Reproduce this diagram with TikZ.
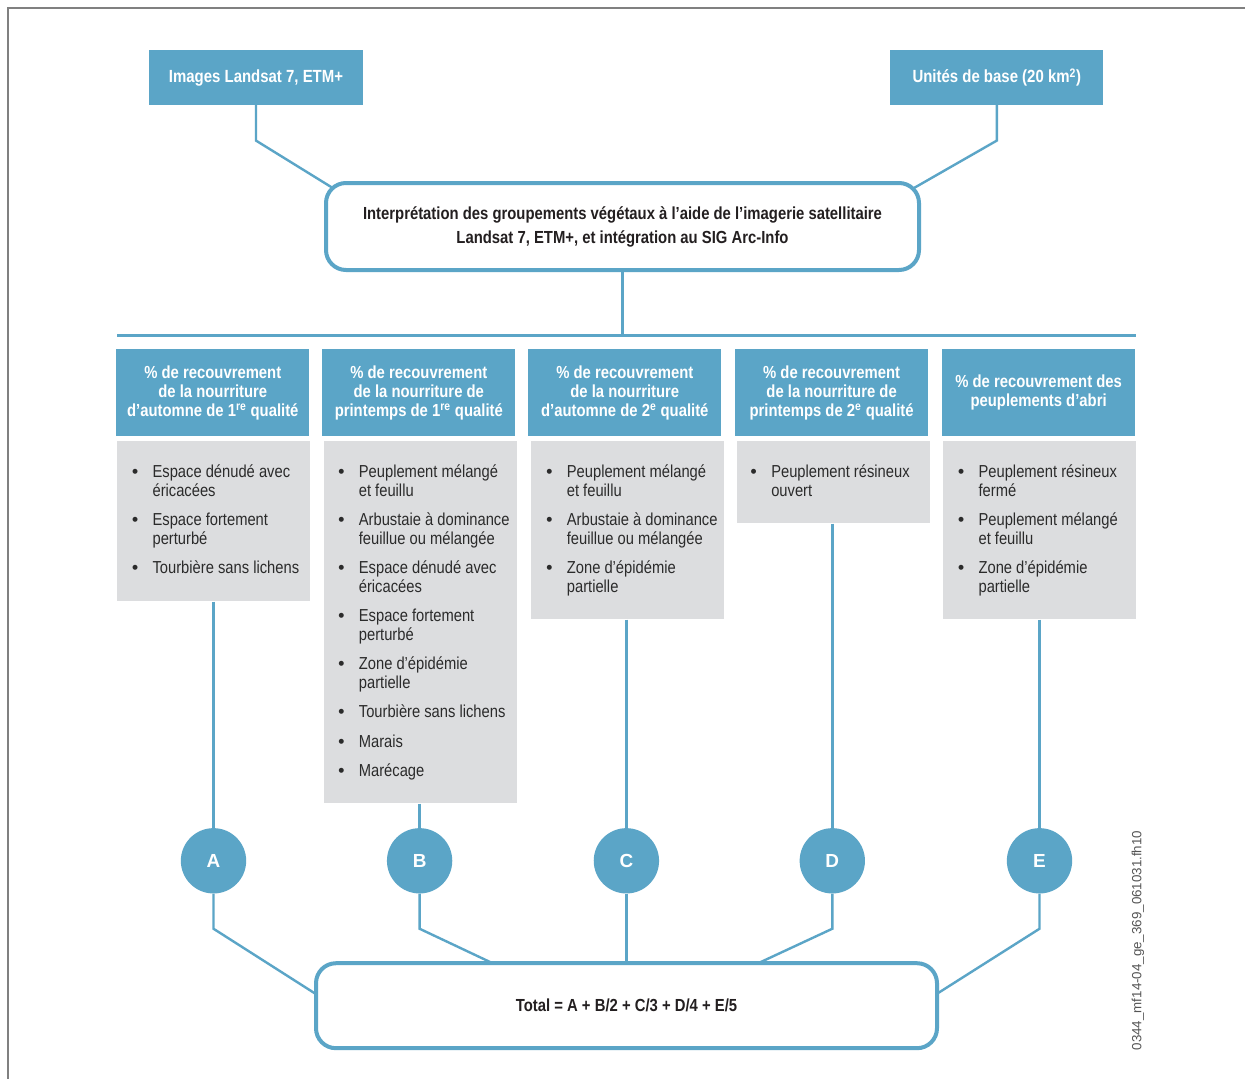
\documentclass[tikz,border=0pt]{standalone}
\usepackage{fontspec}
\setmainfont{Liberation Sans}[FakeStretch=0.85]
\newfontfamily\wideface{Liberation Sans}
\usetikzlibrary{calc,backgrounds}

\definecolor{flowblue}{HTML}{5BA5C7}
\definecolor{listgrey}{HTML}{DCDDDF}
\definecolor{framegrey}{HTML}{808080}
\definecolor{inkdark}{HTML}{231F20}
\definecolor{listink}{HTML}{2B2B2B}
\definecolor{codegrey}{HTML}{555555}

% font choices
\newcommand\fcsrc{\fontsize{13.2pt}{15pt}\selectfont\bfseries}
\newcommand\fchead{\fontsize{13.1pt}{14.25pt}\selectfont\bfseries}
\newcommand\fclist{\fontsize{13pt}{14pt}\selectfont}
\newcommand\fcproc{\fontsize{13.1pt}{18pt}\selectfont\bfseries}
\newcommand\fctotal{\fontsize{13.1pt}{15pt}\selectfont\bfseries}
\newcommand\fcletter{\wideface\fontsize{14.2pt}{16pt}\selectfont\bfseries}
\newcommand\fccode{\wideface\fontsize{10pt}{12pt}\selectfont}

% one bullet line of a list, and the gap between two items
\newcommand\itm[1]{\strut\llap{\makebox[26.25pt]{\wideface\bfseries\textbullet}}#1}
\newcommand\cnt[1]{\strut#1}
\newcommand\gapitem{\\[8pt]}

\tikzset{
  srcbox/.style={fill=flowblue, text=white, font=\fcsrc,
    minimum width=160pt, minimum height=41pt, inner sep=0pt},
  roundbox/.style={draw=flowblue, line width=3pt, fill=white,
    rounded corners=15pt, inner sep=0pt, align=center, text=inkdark},
  headbox/.style={fill=flowblue, text=white, font=\fchead,
    minimum width=144.75pt, minimum height=65pt, inner sep=0pt, align=center},
  listbox/.style={fill=listgrey, anchor=north west,
    minimum width=144.75pt, inner sep=0pt},
  listtext/.style={anchor=north west, inner sep=0pt, align=left,
    font=\fclist, text=listink},
  letter/.style={circle, fill=flowblue, text=white, font=\fcletter,
    minimum size=49pt, inner sep=0pt},
  conn/.style={draw=flowblue, line width=1.8pt},
  bus/.style={draw=flowblue, line width=2.25pt},
}

\begin{document}
\begin{tikzpicture}[x=0.75pt,y=-0.75pt]
\useasboundingbox (0,0) rectangle (1245,1078);

% outer frame
\draw[framegrey, line width=1.5pt] (8,1080) -- (8,8) -- (1247,8);

% sources
\node[srcbox] (img) at (256,77.5) {Images Landsat 7, ETM+};
\node[srcbox] (units) at (996.8,77.5) {Unités de base (20 km\textsuperscript{2})};

% interpretation step
\node[roundbox, minimum width=444.75pt, minimum height=65.25pt, font=\fcproc]
  (main) at (622.5,226.5)
  {Interprétation des groupements végétaux à l’aide de l’imagerie satellitaire\\
   Landsat 7, ETM+, et intégration au SIG Arc-Info};

% distribution bus
\coordinate (busL) at (117,335);
\coordinate (busR) at (1136,335);
\draw[bus] (busL) -- (busR);

% column headers
\node[headbox] (hA) at (212.8,392.6) {\%~de recouvrement\\de la nourriture\\d’automne de 1\textsuperscript{re} qualité};
\node[headbox] (hB) at (418.8,392.6) {\%~de recouvrement\\de la nourriture de\\printemps de 1\textsuperscript{re} qualité};
\node[headbox] (hC) at (624.8,392.6) {\%~de recouvrement\\de la nourriture\\d’automne de 2\textsuperscript{e} qualité};
\node[headbox] (hD) at (831.6,392.6) {\%~de recouvrement\\de la nourriture de\\printemps de 2\textsuperscript{e} qualité};
\node[headbox] (hE) at (1038.6,392.6) {\%~de recouvrement des\\peuplements d’abri};

% grey list panels
\node[listbox, minimum height=120pt]   (gA) at (116.8,441) {};
\node[listbox, minimum height=271.5pt] (gB) at (323.3,441) {};
\node[listbox, minimum height=133.5pt] (gC) at (531,441) {};
\node[listbox, minimum height=61.5pt]  (gD) at (736.6,441) {};
\node[listbox, minimum height=133.5pt] (gE) at (942.7,441) {};

% list contents
\node[listtext] (lA) at (152.3,464.5)
  {\itm{Espace dénudé avec}\\\cnt{éricacées}\gapitem
   \itm{Espace fortement}\\\cnt{perturbé}\gapitem
   \itm{Tourbière sans lichens}};
\node[listtext] (lB) at (358.6,464.5)
  {\itm{Peuplement mélangé}\\\cnt{et feuillu}\gapitem
   \itm{Arbustaie à dominance}\\\cnt{feuillue ou mélangée}\gapitem
   \itm{Espace dénudé avec}\\\cnt{éricacées}\gapitem
   \itm{Espace fortement}\\\cnt{perturbé}\gapitem
   \itm{Zone d’épidémie}\\\cnt{partielle}\gapitem
   \itm{Tourbière sans lichens}\gapitem
   \itm{Marais}\gapitem
   \itm{Marécage}};
\node[listtext] (lC) at (566.6,464.5)
  {\itm{Peuplement mélangé}\\\cnt{et feuillu}\gapitem
   \itm{Arbustaie à dominance}\\\cnt{feuillue ou mélangée}\gapitem
   \itm{Zone d’épidémie}\\\cnt{partielle}};
\node[listtext] (lD) at (771,464.5)
  {\itm{Peuplement résineux}\\\cnt{ouvert}};
\node[listtext] (lE) at (978.3,464.5)
  {\itm{Peuplement résineux}\\\cnt{fermé}\gapitem
   \itm{Peuplement mélangé}\\\cnt{et feuillu}\gapitem
   \itm{Zone d’épidémie}\\\cnt{partielle}};

% weighting circles
\node[letter] (cA) at (213.5,860.8) {A};
\node[letter] (cB) at (419.6,860.8) {B};
\node[letter] (cC) at (626.4,860.8) {C};
\node[letter] (cD) at (832.3,860.8) {D};
\node[letter] (cE) at (1039.5,860.8) {E};

% total
\node[roundbox, minimum width=465.75pt, minimum height=63.75pt, font=\fctotal]
  (total) at (626.5,1005.7) {Total = A + B/2 + C/3 + D/4 + E/5};

% file reference
\node[font=\fccode, text=codegrey, rotate=90, inner sep=0pt] (code) at (1138,940.5)
  {0344\_mf14-04\_ge\_369\_061031.fh10};

% connectors, drawn beneath the boxes
\begin{scope}[on background layer]
  \fill[white] (0,0) rectangle (1245,1078);
  \draw[conn] (img.south) -- ++(0,35.5) -- ($(main.north west)+(12,9)$);
  \draw[conn] (units.south) -- ++(0,35.5) -- ($(main.north east)+(-14,11)$);
  \draw[conn] (main.south) -- (main.south |- busL);
  \draw[conn] (cA.north |- gA.south) -- (cA.north);
  \draw[conn] (cB.north |- gB.south) -- (cB.north);
  \draw[conn] (cC.north |- gC.south) -- (cC.north);
  \draw[conn] (cD.north |- gD.south) -- (cD.north);
  \draw[conn] (cE.north |- gE.south) -- (cE.north);
  \draw[conn] (cA.south) -- ++(0,35) -- ($(total.north west)+(10,38)$);
  \draw[conn] (cB.south) -- ++(0,35) -- ($(total.north west)+(182,3.6)$);
  \draw[conn] (cC.south) -- (cC.south |- total.north);
  \draw[conn] (cD.south) -- ++(0,35) -- ($(total.north east)+(-184,3.5)$);
  \draw[conn] (cE.south) -- ++(0,35) -- ($(total.north east)+(-10,37.6)$);
\end{scope}
\end{tikzpicture}
\end{document}
